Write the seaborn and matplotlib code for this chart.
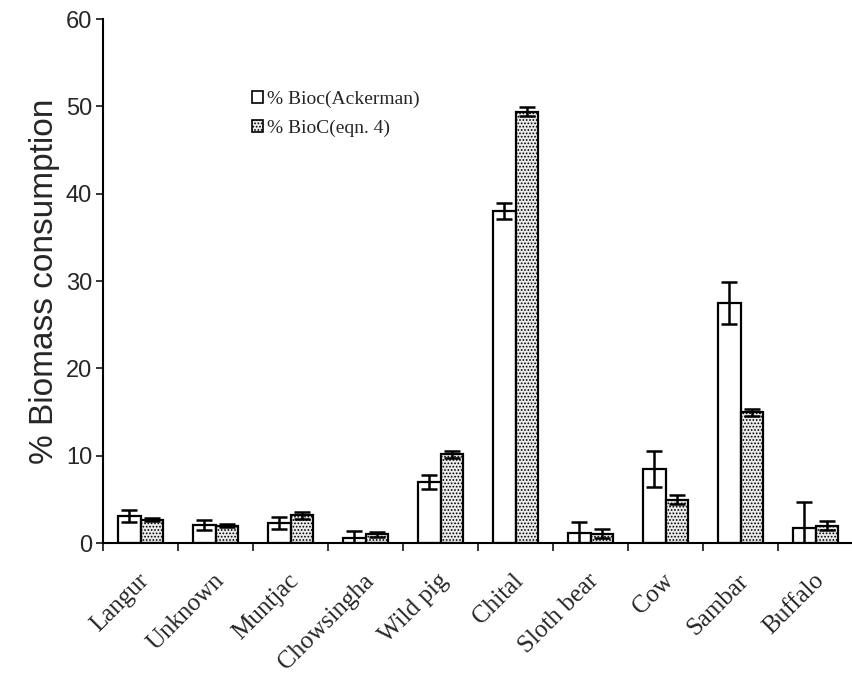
import matplotlib
matplotlib.use("Agg")
import matplotlib.pyplot as plt
import matplotlib.transforms as mtransforms
import seaborn as sns
import pandas as pd
import numpy as np
from matplotlib.patches import Patch
from matplotlib.container import BarContainer

categories = ["Langur", "Unknown", "Muntjac", "Chowsingha", "Wild pig",
              "Chital", "Sloth bear", "Cow", "Sambar", "Buffalo"]
series_names = ["% Bioc(Ackerman)", "% BioC(eqn. 4)"]
ackerman = [3.1, 2.1, 2.3, 0.6, 7.0, 38.0, 1.2, 8.5, 27.5, 1.7]
ackerman_err = [0.7, 0.6, 0.7, 0.8, 0.8, 0.9, 1.2, 2.1, 2.4, 3.0]
eqn4 = [2.7, 2.0, 3.2, 1.0, 10.2, 49.4, 1.1, 5.0, 15.0, 2.0]
eqn4_err = [0.2, 0.2, 0.4, 0.3, 0.4, 0.5, 0.5, 0.5, 0.4, 0.5]

df = pd.DataFrame({
    "species": categories * 2,
    "series": [series_names[0]] * len(categories) + [series_names[1]] * len(categories),
    "value": ackerman + eqn4,
    "err": ackerman_err + eqn4_err,
})

sns.set_theme(style="white")
plt.rcParams['hatch.color'] = '#a0a0a0'
plt.rcParams['hatch.linewidth'] = 0.8

fig = plt.figure(figsize=(8.53, 6.79), dpi=100)
ax = fig.add_axes([0.121, 0.2, 0.879, 0.772])

sns.barplot(data=df, x="species", y="value", hue="series", order=categories,
            hue_order=series_names, palette=["white", "#ebebeb"], width=0.6,
            edgecolor="black", linewidth=1.6, errorbar=None, ax=ax, legend=False)

bar_containers = [c for c in ax.containers if isinstance(c, BarContainer)]
for ci, cont in enumerate(bar_containers):
    errs = ackerman_err if ci == 0 else eqn4_err
    vals = ackerman if ci == 0 else eqn4
    xs = []
    for bar in cont.patches:
        xs.append(bar.get_x() + bar.get_width() / 2)
        if ci == 1:
            bar.set_hatch(".....")
    ax.errorbar(xs, vals, yerr=errs, fmt="none", ecolor="black",
                elinewidth=1.8, capsize=5.5, capthick=1.8, zorder=5)

ax.set_ylim(0, 60)
ax.set_xlim(-0.5, len(categories) - 0.5)
ax.set_yticks([0, 10, 20, 30, 40, 50, 60])
ax.tick_params(axis="y", labelsize=17, length=5, width=1.3, left=True, direction="out", pad=3)
for lbl in ax.get_yticklabels():
    lbl.set_fontfamily("Liberation Sans")

ax.set_xticks(range(len(categories)))
ax.set_xticklabels(categories, rotation=45, ha="right", rotation_mode="anchor",
                   fontsize=18, fontfamily="Liberation Serif")
ax.tick_params(axis="x", which="major", length=0, pad=19)
offset = mtransforms.ScaledTranslation(-0.03, 0, fig.dpi_scale_trans)
for lbl in ax.get_xticklabels():
    lbl.set_transform(lbl.get_transform() + offset)
ax.set_xticks(np.arange(-0.5, len(categories), 1.0), minor=True)
ax.tick_params(axis="x", which="minor", length=6, width=1.3, bottom=True, direction="out")

ax.set_xlabel("")
ax.set_ylabel("% Biomass consumption", fontsize=24, fontfamily="Liberation Sans", labelpad=4)

for s in ["top", "right"]:
    ax.spines[s].set_visible(False)
for s in ["left", "bottom"]:
    ax.spines[s].set_color("black")
    ax.spines[s].set_linewidth(1.5)

handles = [Patch(facecolor="white", edgecolor="black", linewidth=1.2, label=series_names[0]),
           Patch(facecolor="#ebebeb", edgecolor="black", linewidth=1.2, hatch=".....", label=series_names[1])]
ax.legend(handles=handles, loc="upper left", bbox_to_anchor=(0.185, 0.882), frameon=False,
          prop={"family": "Liberation Serif", "size": 14}, handlelength=0.6, handleheight=0.6,
          handletextpad=0.2, labelspacing=0.6, borderpad=0)

fig.savefig("out.png", dpi=100, facecolor="white")
